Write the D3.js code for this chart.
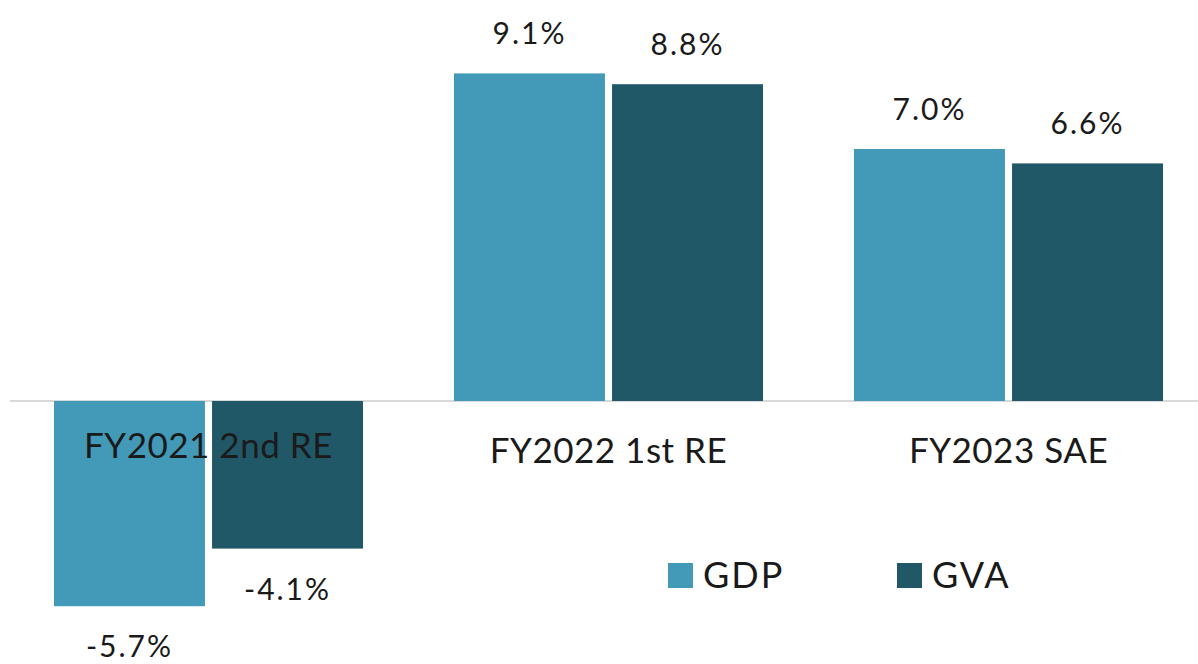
<!DOCTYPE html>
<html>
<head>
<meta charset="utf-8">
<script src="https://cdn.jsdelivr.net/npm/d3@7"></script>
<style>
  body { margin: 0; background: #fff; }
  text { font-family: Lato, "Open Sans", sans-serif; fill: #1a1a1a; }
</style>
</head>
<body>
<svg class="chart"></svg>
<script>
const categories = ["FY2021 2nd RE", "FY2022 1st RE", "FY2023 SAE"]
const series = ["GDP", "GVA"]
const gdp = [-5.7, 9.1, 7.0]
const gva = [-4.1, 8.8, 6.6]
const colors = ["#4399b8", "#215868"]

const width = 1198, height = 664

const svg = d3.select("svg.chart")
    .attr("width", width)
    .attr("height", height)

const x0 = d3.scaleBand()
    .domain(categories)
    .range([14, 1203])
    .paddingInner(0.2275)
    .paddingOuter(0.1)

const x1 = d3.scaleBand()
    .domain(series)
    .range([0, x0.bandwidth()])
    .paddingInner(0.045)

const y = d3.scaleLinear()
    .domain([-7, 10])
    .range([401 + 7 * 36, 401 - 10 * 36])

const fmt = d => d.toFixed(1) + "%"

const data = categories.map((c, i) => ({
    cat: c,
    vals: [{s: "GDP", v: gdp[i]}, {s: "GVA", v: gva[i]}]
}))

// baseline
svg.append("line")
    .attr("x1", 10)
    .attr("x2", width)
    .attr("y1", y(0))
    .attr("y2", y(0))
    .attr("stroke", "#d9d9d9")
    .attr("stroke-width", 2)

const group = svg.selectAll("g.grp")
    .data(data)
    .enter()
    .append("g")
    .attr("class", "grp")
    .attr("transform", d => "translate(" + x0(d.cat) + ",0)")

group.selectAll("rect")
    .data(d => d.vals)
    .enter()
    .append("rect")
    .attr("x", d => x1(d.s))
    .attr("width", x1.bandwidth())
    .attr("y", d => Math.min(y(d.v), y(0)))
    .attr("height", d => Math.abs(y(d.v) - y(0)))
    .attr("fill", (d, i) => colors[i])

group.selectAll("text.val")
    .data(d => d.vals)
    .enter()
    .append("text")
    .attr("class", "val")
    .attr("x", d => x1(d.s) + x1.bandwidth() / 2)
    .attr("y", d => d.v >= 0 ? y(d.v) - 29 : y(d.v) + 51)
    .attr("text-anchor", "middle")
    .style("font-size", "30px")
    .style("letter-spacing", "2px")
    .text(d => fmt(d.v))

group.append("text")
    .attr("x", x0.bandwidth() / 2)
    .attr("y", (d, i) => i === 0 ? 458 : 463)
    .attr("text-anchor", "middle")
    .style("font-size", "35px")
    .style("letter-spacing", "0.5px")
    .text(d => d.cat)

// legend
const legend = svg.selectAll("g.leg")
    .data(series)
    .enter()
    .append("g")
    .attr("class", "leg")
    .attr("transform", (d, i) => "translate(" + (668 + i * 229) + ",563)")

legend.append("rect")
    .attr("width", 25)
    .attr("height", 25)
    .attr("fill", (d, i) => colors[i])

legend.append("text")
    .attr("x", 35)
    .attr("y", 25)
    .style("font-size", "36px")
    .style("letter-spacing", "2px")
    .text(d => d)
</script>
</body>
</html>
